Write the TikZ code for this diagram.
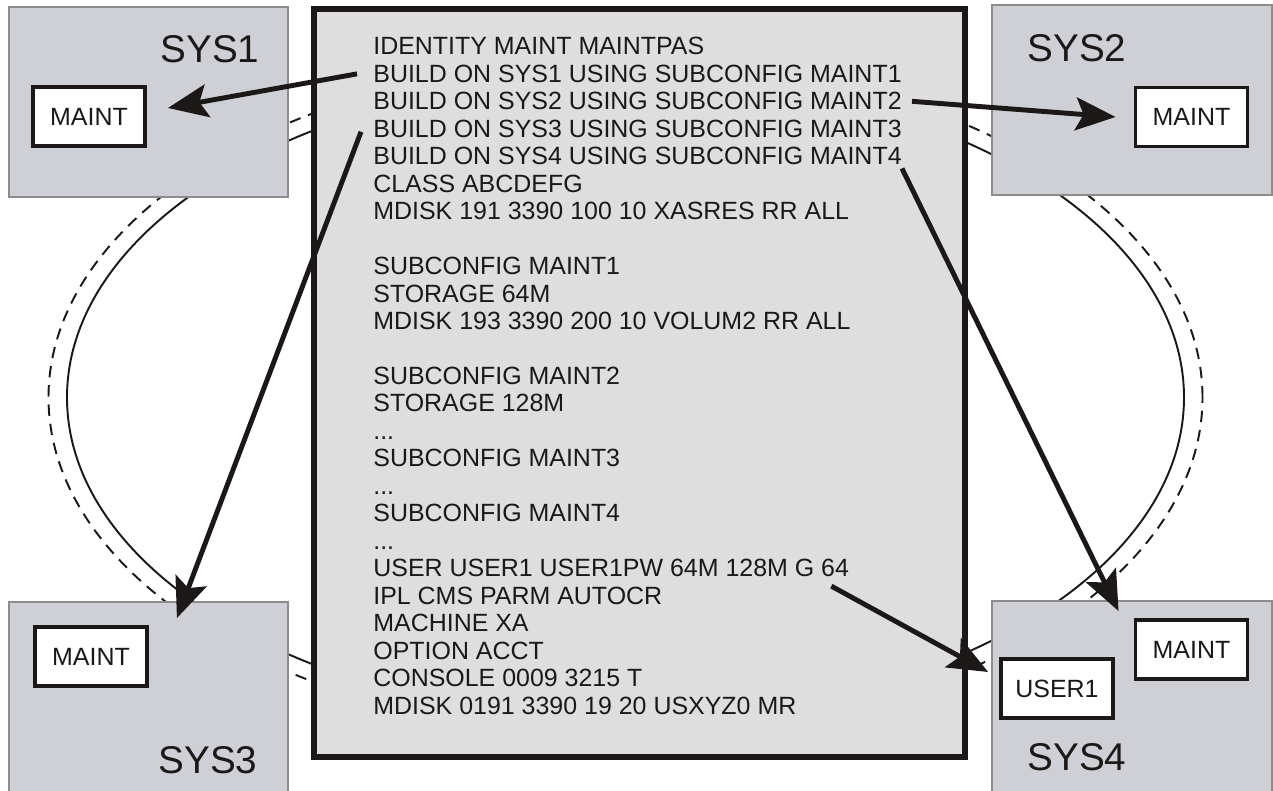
\documentclass[tikz,border=0pt]{standalone}
\usepackage{fontspec}
\setmainfont{Liberation Sans}
\usetikzlibrary{arrows.meta}
\definecolor{ink}{RGB}{28,24,24}
\definecolor{sysgray}{RGB}{207,208,213}
\definecolor{sysedge}{RGB}{140,140,140}
\definecolor{codegray}{RGB}{222,222,222}
\newcommand{\codefont}{\fontsize{14.2}{15.6}\selectfont}
\newcommand{\skipped}{...}
\tikzset{
    vm diagram/.style  = {>={Stealth[length=8mm, width=6.6mm, inset=1.6mm]}},
    ring/.style        = {draw=ink, line width=1.1pt},
    dashed ring/.style = {ring, dash pattern=on 6.5pt off 4.5pt},
    sysbox/.style      = {draw=sysedge, fill=sysgray, line width=0.6pt,
                          inner sep=0pt},
    syslabel/.style    = {text=ink, font=\fontsize{22}{26}\selectfont},
    userbox/.style     = {draw=ink, line width=2.2pt, fill=white, text=ink,
                          font=\codefont, minimum width=2.24cm,
                          minimum height=1.18cm},
    codebox/.style     = {draw=ink, line width=3pt, fill=codegray,
                          minimum width=13.02cm, minimum height=14.96cm},
    codeline/.style    = {anchor=base west, inner sep=0pt, text=ink,
                          font=\codefont},
    link/.style        = {->, draw=ink, line width=2.8pt}
}

\begin{document}
\begin{tikzpicture}[vm diagram]
\useasboundingbox (0,0) rectangle (25.46,15.82);
\clip (0,0) rectangle (25.46,15.82);

% ================= Rings behind the systems =================
\coordinate (hub) at (12.51,7.87);
\draw[dashed ring] (hub) ellipse [x radius=11.54, y radius=6.76];
\draw[ring] (hub) ellipse [x radius=11.17, y radius=6.44];

% ================= Systems =================
\node[sysbox, minimum width=5.58cm, minimum height=3.80cm] (sys1) at (2.97,13.78) {};
\node[sysbox, minimum width=5.60cm, minimum height=3.80cm] (sys2) at (22.64,13.82) {};
\node[sysbox, minimum width=5.58cm, minimum height=3.96cm] (sys3) at (2.97,1.80) {};
\node[sysbox, minimum width=5.60cm, minimum height=3.98cm] (sys4) at (22.64,1.81) {};
\node[syslabel] at (4.20,14.84) {SYS1};
\node[syslabel] at (21.54,14.86) {SYS2};
\node[syslabel] at (4.16,0.62) {SYS3};
\node[syslabel] at (21.54,0.68) {SYS4};

% ================= Guests on each system =================
\node[userbox] (maint1) at (1.78,13.49) {MAINT};
\node[userbox] (maint2) at (23.83,13.48) {MAINT};
\node[userbox] (maint3) at (1.82,2.69) {MAINT};
\node[userbox] (maint4) at (23.83,2.83) {MAINT};
\node[userbox] (user1) at (21.14,2.05) {USER1};

% ================= Directory =================
\node[codebox] (dir) at (12.79,8.16) {};
\foreach \i/\txt in {1/IDENTITY MAINT MAINTPAS,
        2/BUILD ON SYS1 USING SUBCONFIG MAINT1,
        3/BUILD ON SYS2 USING SUBCONFIG MAINT2,
        4/BUILD ON SYS3 USING SUBCONFIG MAINT3,
        5/BUILD ON SYS4 USING SUBCONFIG MAINT4,
        6/CLASS ABCDEFG,
        7/MDISK 191 3390 100 10 XASRES RR ALL,
        9/SUBCONFIG MAINT1,
        10/STORAGE 64M,
        11/MDISK 193 3390 200 10 VOLUM2 RR ALL,
        13/SUBCONFIG MAINT2,
        14/STORAGE 128M,
        15/\skipped,
        16/SUBCONFIG MAINT3,
        17/\skipped,
        18/SUBCONFIG MAINT4,
        19/\skipped,
        20/USER USER1 USER1PW 64M 128M G 64,
        21/IPL CMS PARM AUTOCR,
        22/MACHINE XA,
        23/OPTION ACCT,
        24/CONSOLE 0009 3215 T,
        25/MDISK 0191 3390 19 20 USXYZ0 MR}
    \node[codeline] (l\i) at (7.46,{14.72-0.5492*(\i-1)}) {\txt};

% ================= Links =================
\draw[link] ([xshift=-3.2mm]l2.west) -- ([shift={(4.2mm,1.7mm)}]maint1.east);
\draw[link] ([xshift=2mm]l3.east) -- ([xshift=-3.6mm]maint2.west);
\draw[link] ([xshift=-2.4mm, yshift=-0.6mm]l4.west) -- ([shift={(5.6mm,1.4mm)}]maint3.north east);
\draw[link] ([yshift=-0.6mm]l5.south east) -- ([shift={(-3mm,1.4mm)}]maint4.north west);
\draw[link] ([xshift=-3.6mm, yshift=-3.6mm]l20.east) -- ([shift={(-2.2mm,3.3mm)}]user1.west);

\end{tikzpicture}
\end{document}
